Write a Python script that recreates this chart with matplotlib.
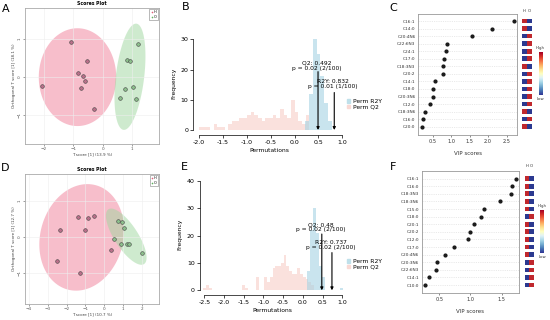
import numpy as np
import matplotlib
matplotlib.use('Agg')
import matplotlib.pyplot as plt
from matplotlib.patches import Polygon, Patch

# ---- data ----
# A : scores plot, first model
a_g1_x = [-1.07, -0.54, -0.83, -0.66, -0.60, -0.74, -2.08, -0.29]
a_g1_y = [0.93, 0.43, 0.11, 0.02, -0.10, -0.29, -0.24, -0.83]
a_g2_x = [1.21, 0.84, 0.93, 0.75, 1.05, 0.59, 1.15]
a_g2_y = [0.87, 0.45, 0.42, -0.32, -0.27, -0.55, -0.58]
# D : scores plot, second model
d_g1_x = [-1.37, -0.84, -0.55, -2.33, -1.03, -2.49, -1.30, 0.39]
d_g1_y = [0.55, 0.52, 0.56, 0.19, 0.19, -0.67, -1.01, -0.37]
d_g2_x = [0.76, 0.96, 1.08, 0.51, 0.88, 1.20, 1.35, 2.00]
d_g2_y = [0.44, 0.40, 0.25, -0.06, -0.21, -0.21, -0.21, -0.45]
groups = ['H', 'O']

# B : permutation histogram (counts per bin)
b_q2_start, b_q2_w = -2.0, 0.077
b_q2_counts = [1, 1, 1, 0, 2, 1, 1, 0, 2, 3, 3, 4, 4, 5, 6, 5, 4, 3, 4, 4,
               5, 4, 7, 5, 4, 10, 6, 3, 2, 5]
b_r2_start, b_r2_w = 0.22, 0.08
b_r2_counts = [3, 12, 30, 25, 18, 9, 3]
b_q2, b_q2_txt = 0.492, 'Q2: 0.492\np = 0.02 (2/100)'
b_r2, b_r2_txt = 0.832, 'R2Y: 0.832\np = 0.01 (1/100)'

# E : permutation histogram
e_q2_start, e_q2_w = -2.52, 0.07
e_q2_counts = [1, 2, 1, 0, 0, 0, 0, 0, 0, 0, 0, 0, 0, 0, 2, 1, 0, 0, 0, 5,
               0, 0, 5, 3, 5, 8, 9, 9, 10, 13, 9, 7, 6, 6, 8, 6, 5, 4, 3, 2]
e_r2_start, e_r2_w = 0.11, 0.075
e_r2_counts = [7, 22, 30, 21, 9, 5, 0, 0, 0, 0, 0, 1]
e_q2, e_q2_txt = 0.48, 'Q2: 0.48\np = 0.02 (2/100)'
e_r2, e_r2_txt = 0.737, 'R2Y: 0.737\np = 0.02 (2/100)'

# C / F : VIP scores
c_names = ['C16:1', 'C14:0', 'C20:4N6', 'C22:6N3', 'C24:1', 'C17:0', 'C18:3N3',
           'C20:2', 'C14:1', 'C18:0', 'C20:3N6', 'C12:0', 'C18:3N6', 'C16:0', 'C20:0']
c_vip = [2.71, 2.10, 1.57, 0.89, 0.87, 0.81, 0.79, 0.78, 0.55, 0.52, 0.51, 0.42,
         0.30, 0.24, 0.20]
c_high = [0, 0, 1, 1, 1, 1, 0, 1, 1, 1, 1, 1, 0, 1, 0]   # 0: first group high
f_names = ['C16:1', 'C16:0', 'C18:3N3', 'C18:3N6', 'C15:0', 'C18:0', 'C20:1',
           'C20:2', 'C12:0', 'C17:0', 'C20:4N6', 'C20:3N6', 'C22:6N3', 'C14:1', 'C10:0']
f_vip = [1.73, 1.67, 1.65, 1.47, 1.21, 1.16, 1.06, 1.00, 0.96, 0.73, 0.60, 0.46,
         0.45, 0.34, 0.27]
f_high = [0, 0, 0, 0, 0, 1, 0, 0, 0, 0, 0, 1, 1, 1, 1]

W, H = 550, 320
fig = plt.figure(figsize=(5.5, 3.2), dpi=100)
plt.rcParams['font.family'] = ['DejaVu Sans']

RED, BLUE = '#c0282d', '#2b3990'


def px_axes(l, t, r, b):
    return fig.add_axes([l / W, 1 - b / H, (r - l) / W, (b - t) / H])


def ellipse(ax, c, u, v, col):
    t = np.linspace(0, 2 * np.pi, 200)
    pts = np.c_[c[0] + u[0] * np.cos(t) + v[0] * np.sin(t),
                c[1] + u[1] * np.cos(t) + v[1] * np.sin(t)]
    ax.add_patch(Polygon(pts, closed=True, fc=col, ec='none', alpha=0.5, zorder=1))


def score_plot(box, xlim, ylim, xticks, g1x, g1y, g2x, g2y, e1, e2, xlab, ylab):
    ax = px_axes(*box)
    ax.set_xlim(xlim)
    ax.set_ylim(ylim)
    ax.set_xticks(xticks)
    ax.set_yticks([-1, 0, 1])
    ax.grid(color='#eeeeee', lw=0.4, zorder=0)
    ellipse(ax, *e1, '#f07e98')
    ellipse(ax, *e2, '#9fd79f')
    ax.scatter(g1x, g1y, s=7, c='#b8708a', edgecolors='#444444', lw=0.4, zorder=3)
    ax.scatter(g2x, g2y, s=7, c='#8cbf8c', edgecolors='#444444', lw=0.4, zorder=3)
    ax.tick_params(labelsize=3, length=1.5, width=0.4, pad=1, colors='#555555')
    for lab in ax.get_yticklabels():
        lab.set_rotation(90)
        lab.set_va('center')
    for s in ax.spines.values():
        s.set_color('#aaaaaa')
        s.set_linewidth(0.6)
    ax.set_title('Scores Plot', fontsize=3.3, fontweight='bold', pad=2)
    ax.set_xlabel(xlab, fontsize=3, labelpad=1, color='#444444')
    ax.set_ylabel(ylab, fontsize=3, labelpad=1, color='#444444')
    hs = [plt.Line2D([], [], marker='+', ls='', color=cl, ms=2, mew=0.4)
          for cl in ('#e0607a', '#60b060')]
    leg = ax.legend(hs, groups, loc='upper right', fontsize=2.5, frameon=True,
                    borderpad=0.3, handletextpad=0.2, handlelength=0.8,
                    labelspacing=0.1, fancybox=False, borderaxespad=0.4)
    leg.get_frame().set_linewidth(0.4)
    leg.get_frame().set_edgecolor('#666666')
    return ax


def perm_plot(box, xlim, ylim, xticks, yticks, q2s, q2w, q2c, r2s, r2w, r2c,
              q2, q2t, r2, r2t, q2_top, r2_top, q2_ty, r2_ty, offs, leg_xy):
    ax = px_axes(*box)
    ax.bar(q2s + q2w * np.arange(len(q2c)), q2c, width=q2w, align='edge',
           color='#f7c9c2', alpha=0.55, lw=0)
    ax.bar(r2s + r2w * np.arange(len(r2c)), r2c, width=r2w, align='edge',
           color='#a6d3e3', alpha=0.6, lw=0)
    for x, top in ((q2, q2_top), (r2, r2_top)):
        ax.annotate('', xy=(x, 0), xytext=(x, top),
                    arrowprops=dict(arrowstyle='-|>', color='black', lw=0.8,
                                    mutation_scale=4, shrinkA=0, shrinkB=0))
    ax.text(q2 - 0.03, q2_ty, q2t, ha='center', va='bottom', fontsize=4.3,
            linespacing=1.0)
    ax.text(r2 - 0.02, r2_ty, r2t, ha='center', va='bottom', fontsize=4.3,
            linespacing=1.0)
    ax.set_xlim(xlim)
    ax.set_ylim(ylim)
    ax.set_xticks(xticks, ['%.1f' % v for v in xticks])
    ax.set_yticks(yticks)
    for lab in ax.get_yticklabels():
        lab.set_rotation(90)
        lab.set_va('center')
    ax.spines[['top', 'right']].set_visible(False)
    ax.spines['left'].set_bounds(yticks[0], yticks[-1])
    ax.spines['bottom'].set_bounds(xticks[0], xticks[-1])
    ax.spines['left'].set_position(('outward', offs[0]))
    ax.spines['bottom'].set_position(('outward', offs[1]))
    for s in ('left', 'bottom'):
        ax.spines[s].set_linewidth(0.5)
    ax.tick_params(labelsize=4.5, length=2, width=0.5, pad=1.5)
    ax.set_xlabel('Permutations', fontsize=4.3, labelpad=2)
    ax.set_ylabel('Frequency', fontsize=4.3, labelpad=3)
    hs = [Patch(color='#bfe0ea'), Patch(color='#f9d9d4')]
    fig.legend(hs, ['Perm R2Y', 'Perm Q2'], loc='upper left',
               bbox_to_anchor=(leg_xy[0] / W, 1 - leg_xy[1] / H), fontsize=4.3,
               frameon=False, handlelength=0.5, handleheight=0.5,
               handletextpad=0.5, labelspacing=0.15, borderpad=0)
    return ax


def vip_plot(box, names, vip, high, xlim, ylim, xticks, hm_x, cb_box, head_y):
    ax = px_axes(*box)
    y = np.arange(len(names))[::-1]
    for yy in y:
        ax.axhline(yy, color='#d8d8d8', lw=0.4, ls=(0, (2, 2)), zorder=0)
    ax.scatter(vip, y, s=4, c='#1a1a1a', zorder=3)
    ax.set_xlim(xlim)
    ax.set_ylim(ylim)
    ax.set_xticks(xticks, ['%.1f' % v for v in xticks])
    ax.set_yticks(y, names)
    ax.tick_params(axis='y', labelsize=3.1, length=0, pad=2, colors='#333333')
    ax.tick_params(axis='x', labelsize=3.6, length=1.5, width=0.4, pad=1.5,
                   colors='#333333')
    for s in ax.spines.values():
        s.set_color('#999999')
        s.set_linewidth(0.6)
    ax.set_xlabel('VIP scores', fontsize=4, labelpad=5, color='#333333')

    hm = px_axes(hm_x[0], box[1], hm_x[1], box[3])
    hm.set_ylim(ylim)
    hm.set_xlim(0, 2)
    for yy, h in zip(y, high):
        hm.barh(yy, 1, left=0, height=0.62, color=BLUE if h else RED)
        hm.barh(yy, 1, left=1, height=0.62, color=RED if h else BLUE)
    hm.axis('off')
    for i, g in enumerate(groups):
        fig.text((hm_x[0] + (hm_x[1] - hm_x[0]) * (0.25 + 0.5 * i)) / W,
                 1 - head_y / H, g, fontsize=2.8, ha='center', va='center',
                 color='#333333')

    cb = px_axes(*cb_box)
    cb.imshow(np.linspace(1, 0, 100)[:, None], aspect='auto', cmap='RdYlBu_r')
    cb.axis('off')
    cx = (cb_box[0] + cb_box[2]) / 2 / W
    fig.text(cx, 1 - (cb_box[1] - 4) / H, 'High', fontsize=2.8, ha='center',
             va='center', color='#333333')
    fig.text(cx, 1 - (cb_box[3] + 4) / H, 'Low', fontsize=2.8, ha='center',
             va='center', color='#333333')
    return ax


score_plot((25, 8, 159, 144), (-2.65, 1.92), (-1.75, 1.81), [-2, -1, 0, 1],
           a_g1_x, a_g1_y, a_g2_x, a_g2_y,
           ((-0.86, 0.0), (0.0, 1.28), (1.32, 0.0)),
           ((0.93, 0.01), (0.22, 1.39), (0.48, -0.044)),
           'T score [1] (13.9 %)', 'Orthogonal T score [1] (18.1 %)')
score_plot((25, 174, 159.3, 304), (-4.21, 2.94), (-1.87, 1.74),
           [-4, -3, -2, -1, 0, 1, 2],
           d_g1_x, d_g1_y, d_g2_x, d_g2_y,
           ((-1.19, -0.02), (0.745, 1.449), (2.13, -0.297)),
           ((1.18, 0.0), (0.95, -0.76), (0.52, 0.18)),
           'T score [1] (10.7 %)', 'Orthogonal T score [1] (12.7 %)')

perm_plot((195.2, 36.3, 344.2, 130), (-2.08, 1.04), (0, 31),
          [-2.0, -1.5, -1.0, -0.5, 0.0, 0.5, 1.0], [0, 10, 20, 30],
          b_q2_start, b_q2_w, b_q2_counts, b_r2_start, b_r2_w, b_r2_counts,
          b_q2, b_q2_txt, b_r2, b_r2_txt, 19.3, 12.4, 19.6, 13.6, (1.5, 3.6),
          (344, 96))
perm_plot((201.1, 178.3, 343.9, 290.3), (-2.58, 1.04), (0, 41),
          [-2.5, -2.0, -1.5, -1.0, -0.5, 0.0, 0.5, 1.0], [0, 10, 20, 30, 40],
          e_q2_start, e_q2_w, e_q2_counts, e_r2_start, e_r2_w, e_r2_counts,
          e_q2, e_q2_txt, e_r2, e_r2_txt, 20.6, 13.8, 21.3, 14.6, (1.0, 3.4),
          (344, 256))

vip_plot((418.3, 14, 517.3, 135), c_names, c_vip, c_high, (0.11, 2.79),
         (-1.1, 14.93), [0.5, 1.0, 1.5, 2.0, 2.5], (521.7, 531.7),
         (538.5, 52, 541.7, 95), 11)
vip_plot((421.7, 171, 519.3, 292.7), f_names, f_vip, f_high, (0.22, 1.78),
         (-1.0, 15.0), [0.5, 1.0, 1.5], (524.7, 534),
         (540.3, 210, 544, 252.7), 166)

for lab, x, y in (('A', 6, 9), ('B', 186, 7.3), ('C', 393.3, 8.3),
                  ('D', 5, 168.3), ('E', 184.7, 167.3), ('F', 392.7, 166.7)):
    fig.text(x / W, 1 - y / H, lab, fontsize=8, ha='center', va='center')

fig.savefig('out.png', dpi=100)
